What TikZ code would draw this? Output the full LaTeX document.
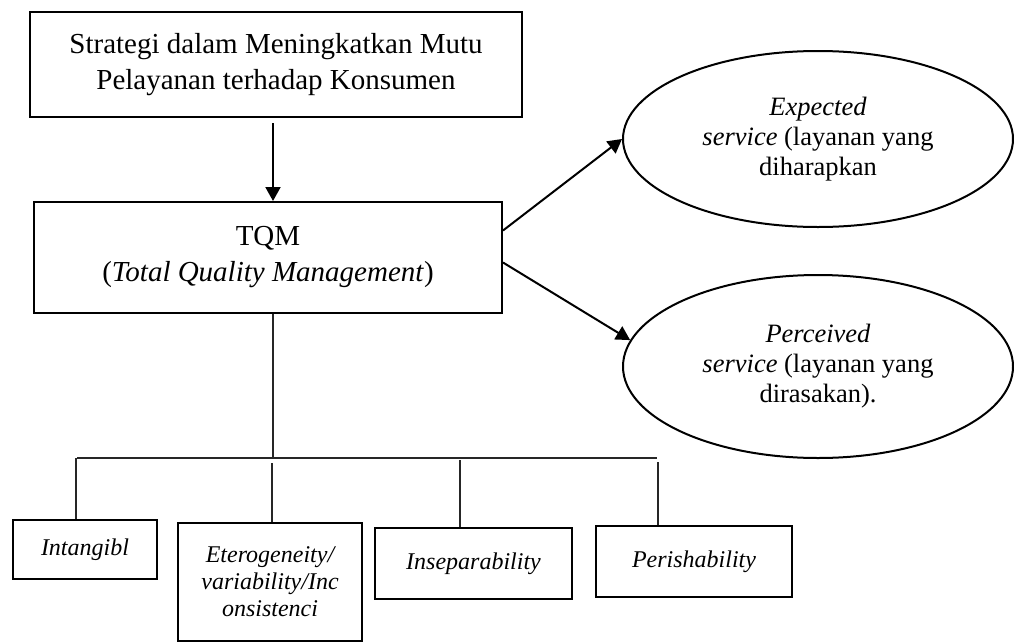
\documentclass[tikz,border=0pt]{standalone}
\usepackage{fontspec}
\setmainfont{Liberation Serif}
\usepackage{tikz}
\usetikzlibrary{shapes.geometric, arrows.meta, positioning, calc}

\tikzset{
  box/.style={draw, rectangle, line width=2pt, align=center, inner sep=0pt},
  oval/.style={draw, ellipse, line width=2pt, align=center, inner sep=0pt,
    minimum width=390pt},
  arr/.style={-{Triangle[length=14pt,width=15pt]}, line width=2pt},
  tree/.style={line width=1.3pt, black!85},
  big/.style={font=\fontsize{29}{36}\selectfont},
  mid/.style={font=\fontsize{26.5}{30}\selectfont},
  small/.style={font=\fontsize{24}{27}\selectfont\itshape}
}

\begin{document}
\begin{tikzpicture}[x=1pt, y=-1pt]
\useasboundingbox (0,0) rectangle (1014,643);

% Main boxes
\node[box, big, minimum width=492pt, minimum height=105pt] (strat) at (276,64.5)
  {Strategi dalam Meningkatkan Mutu\\Pelayanan terhadap Konsumen};
\node[box, big, minimum width=468pt, minimum height=111pt] (tqm) at (268,257.5)
  {TQM\\(\textit{Total Quality Management})};

% Service ellipses
\node[oval, mid, minimum height=176pt] (expect) at (818,139)
  {\textit{Expected}\\\textit{service} (layanan yang\\diharapkan};
\node[oval, mid, minimum height=183pt] (perceive) at (818,366.5)
  {\textit{Perceived}\\\textit{service} (layanan yang\\dirasakan).};

% Characteristics
\node[box, small, minimum width=144pt, minimum height=59pt] (intang) at (85,549.5) {Intangibl};
\node[box, small, minimum width=184pt, minimum height=118pt] (etero) at (270,582)
  {Eterogeneity/\\variability/Inc\\onsistenci};
\node[box, small, minimum width=197pt, minimum height=71pt] (insep) at (473.5,563.5) {Inseparability};
\node[box, small, minimum width=196pt, minimum height=71pt] (perish) at (694,561.5) {Perishability};

% Arrows
\draw[arr] ([xshift=-3pt,yshift=-5pt]strat.south) -- ([xshift=5pt]tqm.north);
\draw[arr] ([yshift=27pt]tqm.east) -- (expect.west);
\draw[arr] ([yshift=-5pt]tqm.east) -- (perceive.172);

% Tree lines
\coordinate (busL) at (77,458);
\coordinate (busR) at (657,458);
\draw[tree] ([xshift=5pt]tqm.south) -- ([xshift=5pt]tqm.south |- busL);
\draw[tree] (busL) -- (busR);
\draw[tree] ([xshift=-9pt]intang.north) -- ([xshift=-9pt]intang.north |- busL);
\draw[tree] ([xshift=2pt]etero.north) -- ([xshift=2pt,yshift=-5pt]etero.north |- busL);
\draw[tree] ([xshift=-13.5pt]insep.north) -- ([xshift=-13.5pt,yshift=-2pt]insep.north |- busL);
\draw[tree] ([xshift=-36pt]perish.north) -- ([xshift=-36pt,yshift=-4pt]perish.north |- busL);
\end{tikzpicture}
\end{document}
